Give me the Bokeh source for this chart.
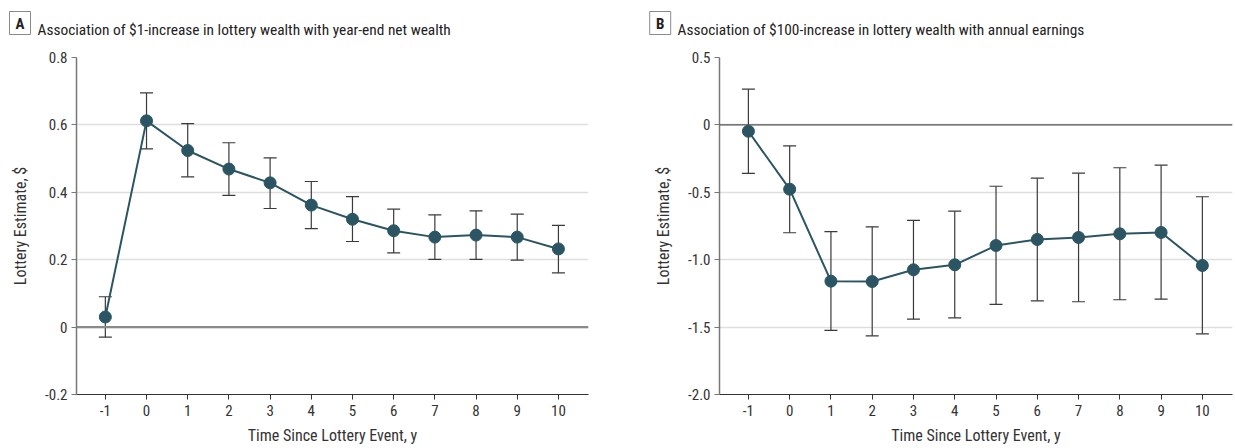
from bokeh.plotting import figure
from bokeh.models import Whisker, ColumnDataSource, Span, FixedTicker, Range1d
from bokeh.layouts import row, column
from bokeh.core.properties import value
from bokeh.embed import file_html
from bokeh.resources import INLINE

years = [-1, 0, 1, 2, 3, 4, 5, 6, 7, 8, 9, 10]

a_est = [0.03, 0.612, 0.524, 0.469, 0.428, 0.362, 0.32, 0.286, 0.267, 0.273, 0.267, 0.232]
a_lo = [-0.03, 0.529, 0.446, 0.391, 0.352, 0.292, 0.254, 0.22, 0.201, 0.201, 0.199, 0.161]
a_hi = [0.09, 0.695, 0.604, 0.547, 0.502, 0.432, 0.387, 0.35, 0.333, 0.345, 0.335, 0.302]

b_est = [-0.047, -0.477, -1.159, -1.162, -1.075, -1.038, -0.895, -0.85, -0.835, -0.808, -0.798, -1.043]
b_lo = [-0.36, -0.8, -1.525, -1.565, -1.441, -1.431, -1.332, -1.305, -1.312, -1.297, -1.293, -1.55]
b_hi = [0.265, -0.155, -0.791, -0.756, -0.709, -0.64, -0.455, -0.395, -0.358, -0.318, -0.299, -0.533]

a_ticks = [-0.2, 0, 0.2, 0.4, 0.6, 0.8]
a_tick_labels = ["-0.2", "0", "0.2", "0.4", "0.6", "0.8"]
b_ticks = [-2.0, -1.5, -1.0, -0.5, 0, 0.5]
b_tick_labels = ["-2.0", "-1.5", "-1.0", "-0.5", "0", "0.5"]

letter_a = "A"
letter_b = "B"
title_a = "Association of $1-increase in lottery wealth with year-end net wealth"
title_b = "Association of $100-increase in lottery wealth with annual earnings"
y_label = "Lottery Estimate, $"
x_label = "Time Since Lottery Event, y"

FONT = "'Roboto Condensed', 'DejaVu Sans Condensed', 'Noto Sans', sans-serif"
DOT = "#2b5563"
TXT = "#333333"
HEAD_H = 46


def make_header(width, box_cx, text_x, letter, title):
    h = figure(width=width, height=HEAD_H, output_backend="svg", toolbar_location=None,
               x_range=Range1d(0, width), y_range=Range1d(HEAD_H, 0),
               min_border=0, min_border_left=0, min_border_right=0, min_border_top=0, min_border_bottom=0)
    h.axis.visible = False
    h.grid.visible = False
    h.outline_line_color = None
    h.rect(x=[box_cx], y=[22.5], width=21, height=23, fill_color="white",
           line_color="#8a8a8a", line_width=1)
    h.text(x=[box_cx], y=[23], text=[letter], text_font=value(FONT), text_font_size="15px",
           text_font_style="bold", text_color="#222222", text_align="center", text_baseline="middle")
    h.text(x=[text_x], y=[29], text=[title], text_font=value(FONT), text_font_size="15.4px",
           text_color="#222222", text_align="left", text_baseline="alphabetic")
    return h


def make_panel(est, lo, hi, ticks, tick_labels, yr, width, bl, br, zero_color, zero_width):
    src = ColumnDataSource(dict(x=years, y=est, lo=lo, hi=hi))
    p = figure(width=width, height=448 - HEAD_H, output_backend="svg", toolbar_location=None,
               x_range=Range1d(-1.7, 10.73), y_range=Range1d(*yr),
               min_border_left=bl, min_border_right=br, min_border_top=11, min_border_bottom=54)
    p.outline_line_color = None
    p.xgrid.grid_line_color = None
    p.ygrid.grid_line_color = "#dedede"
    p.ygrid.grid_line_width = 1.5
    p.ygrid.ticker = FixedTicker(ticks=ticks)

    p.xaxis.ticker = FixedTicker(ticks=years)
    p.yaxis.ticker = FixedTicker(ticks=ticks)
    p.yaxis.major_label_overrides = {t: l for t, l in zip(ticks, tick_labels)}
    p.xaxis.major_label_overrides = {y: str(y) for y in years}
    for ax in (p.xaxis, p.yaxis):
        ax.minor_tick_line_color = None
        ax.major_tick_in = 0
        ax.major_tick_out = 5
        ax.major_label_text_font = FONT
        ax.major_label_text_font_size = "15px"
        ax.major_label_text_color = TXT
        ax.axis_label_text_font = FONT
        ax.axis_label_text_font_size = "16px"
        ax.axis_label_text_font_style = "normal"
        ax.axis_label_text_color = TXT
    p.xaxis.axis_line_color = "#333333"
    p.xaxis.major_tick_line_color = "#333333"
    p.yaxis.axis_line_color = "#777777"
    p.yaxis.major_tick_line_color = "#777777"
    p.yaxis.axis_line_width = 1.5
    p.xaxis.axis_line_width = 1.2
    p.xaxis.axis_label = x_label
    p.yaxis.axis_label = y_label
    p.xaxis.major_label_standoff = 5
    p.xaxis.axis_label_standoff = 7
    p.yaxis.major_label_standoff = 4
    p.yaxis.axis_label_standoff = 12

    p.add_layout(Span(location=0, dimension="width", line_color=zero_color, line_width=zero_width))

    w = Whisker(base="x", upper="hi", lower="lo", source=src, line_color="#3a3a3a", line_width=1.2)
    for head in (w.upper_head, w.lower_head):
        head.size = 13
        head.line_color = "#3a3a3a"
        head.line_width = 1.2
    p.add_layout(w)

    p.line("x", "y", source=src, line_color=DOT, line_width=2)
    p.scatter("x", "y", source=src, size=12, fill_color=DOT, line_color=DOT)
    return p


ha = make_header(620, 19.5, 37, letter_a, title_a)
hb = make_header(615, 39.7, 57, letter_b, title_b)
pa = make_panel(a_est, a_lo, a_hi, a_ticks, a_tick_labels, (-0.2, 0.8), 620, 76, 32, "#8a8a8a", 2.2)
pb = make_panel(b_est, b_lo, b_hi, b_ticks, b_tick_labels, (-2.0, 0.5), 615, 99, 3, "#555555", 1.3)

layout = column(row(ha, hb), row(pa, pb))
open("out.html", "w").write(file_html(layout, INLINE))
